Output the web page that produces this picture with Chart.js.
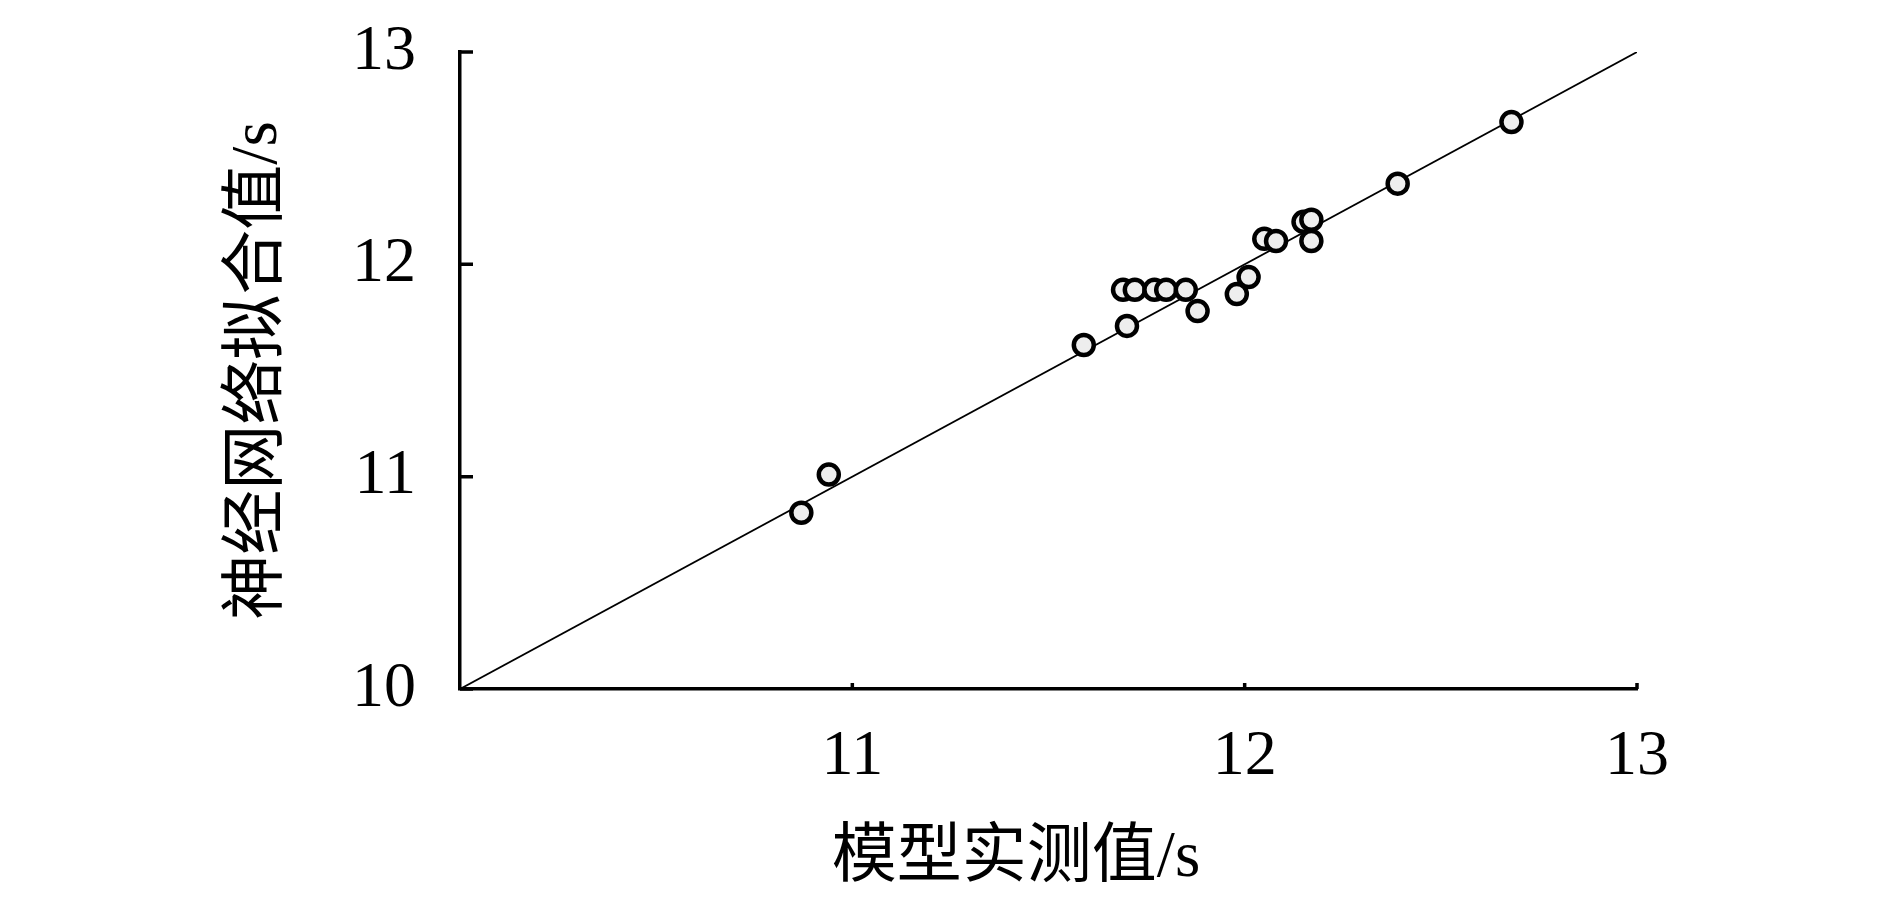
<!DOCTYPE html>
<html>
<head>
<meta charset="utf-8">
<script src="https://cdn.jsdelivr.net/npm/chart.js@4"></script>
<style>
  body { margin: 0; background: #fff; }
  canvas { display: block; }
</style>
</head>
<body>
<canvas id="fit_chart" width="1890" height="908"></canvas>
<script>
// measured vs fitted (s)
const measured = [10.87, 10.94, 11.59, 11.70, 11.69, 11.72, 11.77, 11.80, 11.85, 11.88, 11.98, 12.01, 12.05, 12.08, 12.15, 12.17, 12.17, 12.39, 12.68]
const fitted = [10.83, 11.01, 11.62, 11.71, 11.88, 11.88, 11.88, 11.88, 11.88, 11.78, 11.86, 11.94, 12.12, 12.11, 12.20, 12.21, 12.11, 12.38, 12.67]
// y = x reference line
const lineX = [10, 13]
const lineY = [10, 13]
const ticksX = [11, 12, 13]
const ticksY = [10, 11, 12, 13]

const serif = "'Liberation Serif', 'Noto Sans CJK SC', serif"

// small tick marks pointing into the plot
const innerTicks = {
    id: 'innerTicks',
    afterDraw(chart) {
        const ctx = chart.ctx
        const xs = chart.scales.x, ys = chart.scales.y
        ctx.save()
        ctx.strokeStyle = '#000'
        ctx.lineWidth = 3.5
        ctx.beginPath()
        ticksY.forEach(v => {
            const py = ys.getPixelForValue(v)
            ctx.moveTo(xs.left, py)
            ctx.lineTo(xs.left + 13, py)
        })
        ticksX.forEach(v => {
            const px = xs.getPixelForValue(v)
            ctx.moveTo(px, ys.bottom)
            ctx.lineTo(px, ys.bottom - 6)
        })
        ctx.stroke()
        ctx.restore()
    }
}

const data = {
    datasets: [{
        type: 'scatter',
        label: 'points',
        data: measured.map((v, i) => ({x: v, y: fitted[i]})),
        pointStyle: 'circle',
        pointRadius: 10,
        pointBorderWidth: 4.5,
        pointBorderColor: '#000',
        pointBackgroundColor: '#eeeeee',
        order: 1
    },
    {
        type: 'line',
        label: 'y=x',
        data: lineX.map((v, i) => ({x: v, y: lineY[i]})),
        borderColor: '#000',
        borderWidth: 1.8,
        pointRadius: 0,
        order: 2
    }]
}

const config = {
    type: 'scatter',
    data: data,
    options: {
        responsive: false,
        animation: false,
        layout: {
            autoPadding: false,
            padding: {left: 0, right: 253, top: 52, bottom: 10}
        },
        plugins: {
            legend: {display: false},
            tooltip: {enabled: false}
        },
        scales: {
            x: {
                type: 'linear',
                min: 10,
                max: 13,
                afterFit: (s) => {
                    s.height = 209
                    s.paddingLeft = 0
                    s.paddingRight = 0
                },
                afterBuildTicks: (s) => { s.ticks = ticksX.map(v => ({value: v})) },
                border: {display: true, color: '#000', width: 3.5},
                grid: {drawOnChartArea: false, drawTicks: false},
                ticks: {
                    color: '#000',
                    padding: 30,
                    font: {family: serif, size: 64}
                },
                title: {
                    display: true,
                    // trailing spaces nudge the title a little left, as in the original
                    text: '模型实测值/s\u00a0\u00a0\u00a0\u00a0',
                    color: '#000',
                    font: {family: serif, size: 65},
                    padding: {top: 0, bottom: 0}
                }
            },
            y: {
                type: 'linear',
                min: 10,
                max: 13,
                afterFit: (s) => {
                    s.width = 460
                    s.paddingTop = 0
                    s.paddingBottom = 0
                },
                afterBuildTicks: (s) => { s.ticks = ticksY.map(v => ({value: v})) },
                border: {display: true, color: '#000', width: 3.5},
                grid: {drawOnChartArea: false, drawTicks: false},
                ticks: {
                    color: '#000',
                    padding: 44,
                    font: {family: serif, size: 64}
                },
                title: {
                    display: true,
                    text: '神经网络拟合值/s',
                    color: '#000',
                    font: {family: serif, size: 65},
                    padding: {top: 220, bottom: 0}
                }
            }
        }
    },
    plugins: [innerTicks]
}

const fit_chart = new Chart(
    document.getElementById('fit_chart'),
    config
)
</script>
</body>
</html>
